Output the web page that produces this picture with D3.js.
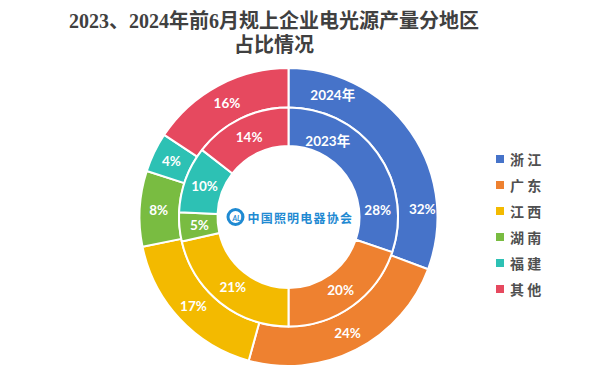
<!DOCTYPE html>
<html><head><meta charset="utf-8">
<script src="https://cdn.jsdelivr.net/npm/d3@7"></script>
<style>html,body{margin:0;padding:0;background:#fff;}svg{display:block;}</style>
</head><body>
<svg id="chart" width="600" height="374"></svg>
<script>
const categories = ["浙 江", "广 东", "江 西", "湖 南", "福 建", "其 他"];
const colors = ["#4673C9", "#EE8130", "#F3BA00", "#79BC41", "#2DC1B4", "#E6495F"];
// 2024 (outer ring) shares as read from the arcs, and their printed labels
const values2024 = [30.7, 23.6, 17.5, 8.2, 4.3, 15.7];
const labels2024 = ["32%", "24%", "17%", "8%", "4%", "16%"];
// 2023 (inner ring) shares as read from the arcs, and their printed labels
const values2023 = [30.2, 19.8, 21.4, 4.3, 9.8, 14.5];
const labels2023 = ["28%", "20%", "21%", "5%", "10%", "14%"];
const years = ["2024年", "2023年"];
const titleLines = ["2023、2024年前6月规上企业电光源产量分地区", "占比情况"];
const logoText = "中国照明电器协会";

const svg = d3.select("#chart");
const cx = 288.5, cy = 217;
const g = svg.append("g").attr("transform", `translate(${cx},${cy})`);

const pie = d3.pie().sort(null).value(d => d);
const rings = [
  {vals: values2024, labels: labels2024, year: years[0], r0: 109.5, r1: 149, lr: 130},
  {vals: values2023, labels: labels2023, year: years[1], r0: 71, r1: 109.5, lr: 89.5}
];

rings.forEach(ring => {
  const arcs = pie(ring.vals);
  const arc = d3.arc().innerRadius(ring.r0).outerRadius(ring.r1);
  g.append("g").selectAll("path").data(arcs).join("path")
    .attr("d", arc)
    .attr("fill", (d, i) => colors[i])
    .attr("stroke", "#fff").attr("stroke-width", 2).attr("stroke-linejoin", "round");
  const at = (d, frac, r) => {
    const a = d.startAngle + (d.endAngle - d.startAngle) * frac;
    return [Math.sin(a) * r, -Math.cos(a) * r];
  };
  const lg = g.append("g");
  arcs.forEach((d, i) => {
    const frac = i === 0 ? 0.785 : 0.5;
    const [x, y] = at(d, frac, ring.lr + (i === 0 && ring.r0 > 100 ? 4 : 0));
    lg.append("text").attr("x", x).attr("y", y)
      .attr("text-anchor", "middle").attr("dominant-baseline", "central")
      .attr("font-family", "Lato, 'Open Sans', sans-serif").attr("font-weight", "bold")
      .attr("font-size", 13.5).attr("fill", "#fff").text(ring.labels[i]);
    if (i === 0) {
      const f = ring.r0 > 100 ? 0.18 : 0.25;
      const [yx, yy] = at(d, f, ring.r0 > 100 ? 130 : 86);
      lg.append("text").attr("x", yx).attr("y", yy)
        .attr("text-anchor", "middle").attr("dominant-baseline", "central")
        .attr("font-family", "Lato, 'Noto Sans CJK SC', sans-serif").attr("font-weight", "bold")
        .attr("font-size", 13.5).attr("fill", "#fff").text(ring.year);
    }
  });
});

// center logo
const logo = g.append("g");
logo.append("circle").attr("cx", -53).attr("cy", 0).attr("r", 7.5)
  .attr("fill", "none").attr("stroke", "#1f8ad2").attr("stroke-width", 3);
logo.append("text").attr("x", -51).attr("y", 0.5).attr("text-anchor", "middle")
  .attr("dominant-baseline", "central").attr("font-family", "Lato, sans-serif")
  .attr("font-weight", "bold").attr("font-style", "italic").attr("font-size", 7)
  .attr("fill", "#1f8ad2").text("ALI");
logo.append("text").attr("x", -41).attr("y", 0)
  .attr("dominant-baseline", "central").attr("font-family", "'Noto Sans CJK SC', sans-serif")
  .attr("font-weight", "bold").attr("font-size", 12).attr("letter-spacing", 1.2)
  .attr("fill", "#1f8ad2").text(logoText);

// title
svg.append("g").selectAll("text").data(titleLines).join("text")
  .attr("x", 274).attr("y", (d, i) => 21 + i * 24)
  .attr("text-anchor", "middle").attr("dominant-baseline", "central")
  .attr("font-family", "'Liberation Serif', 'Noto Sans CJK SC', serif")
  .attr("font-weight", "bold").attr("font-size", 20).attr("fill", "#404040")
  .text(d => d);

// legend
const ly = d3.scalePoint().domain(categories).range([159, 289]);
const leg = svg.append("g").selectAll("g").data(categories).join("g")
  .attr("transform", d => `translate(496,${ly(d)})`);
leg.append("rect").attr("x", 0).attr("y", -4).attr("width", 8).attr("height", 8)
  .attr("fill", (d, i) => colors[i]);
leg.append("text").attr("x", 14).attr("y", 0).attr("dominant-baseline", "central")
  .attr("font-family", "'Noto Sans CJK SC', sans-serif").attr("font-weight", "bold")
  .attr("font-size", 14).attr("fill", "#505050").text(d => d);
</script>
</body></html>
